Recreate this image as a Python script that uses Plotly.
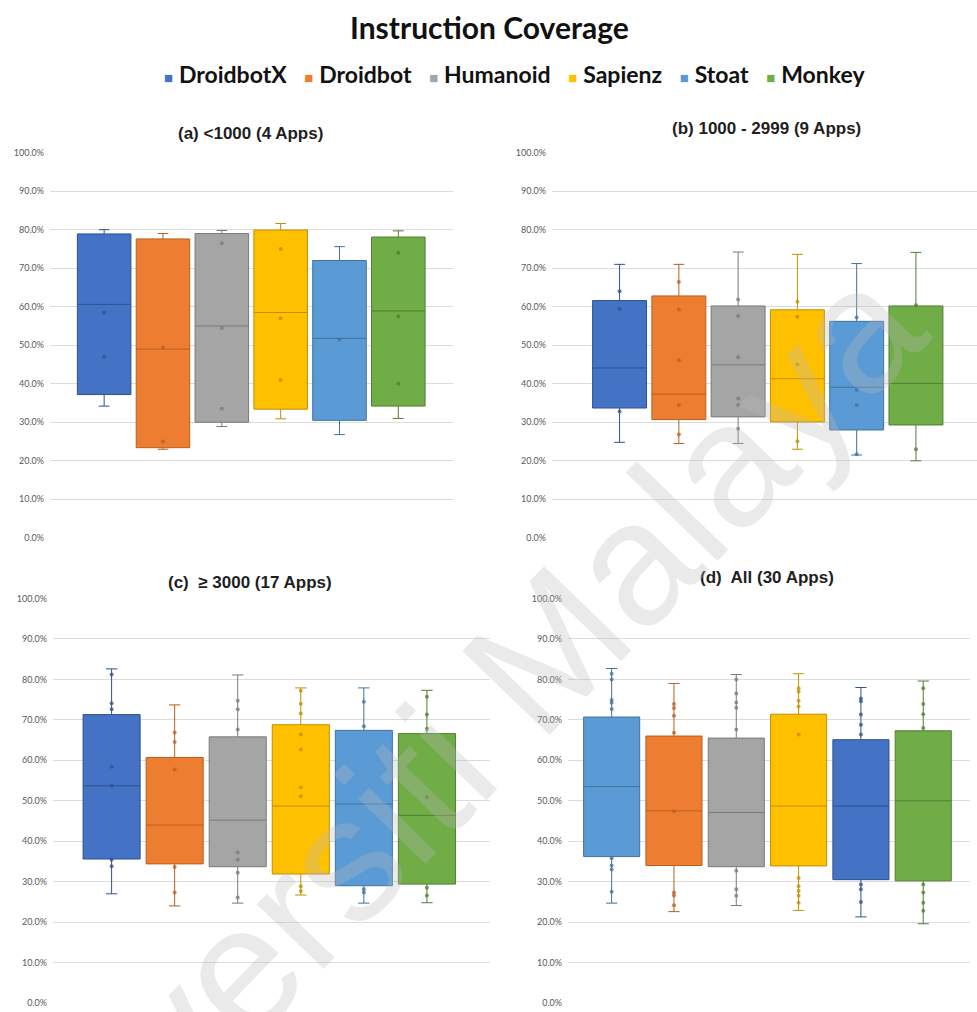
import plotly.graph_objects as go

# Tools compared in every panel
TOOLS = ["DroidbotX", "Droidbot", "Humanoid", "Sapienz", "Stoat", "Monkey"]
LEGEND_COLORS = ["#4472C4", "#ED7D31", "#A5A5A5", "#FFC000", "#5B9BD5", "#70AD47"]

PANEL_TITLES = [
    "(a) <1000 (4 Apps)",
    "(b) 1000 - 2999 (9 Apps)",
    "(c)\u00a0 \u2265 3000 (17 Apps)",
    "(d)\u00a0 All (30 Apps)",
]

# Y-axis ticks (%)
TICK_VALUES = [0, 10, 20, 30, 40, 50, 60, 70, 80, 90, 100]
TICK_LABELS = ["0.0%", "10.0%", "20.0%", "30.0%", "40.0%", "50.0%",
               "60.0%", "70.0%", "80.0%", "90.0%", "100.0%"]

# Instruction coverage (%) box statistics, one value per tool (order of TOOLS)
a_q1 = [37.2, 23.4, 30.0, 33.4, 30.5, 34.2]
a_median = [60.6, 49.0, 55.0, 58.5, 51.8, 58.9]
a_q3 = [78.9, 77.6, 79.0, 79.9, 72.0, 78.1]
a_min = [34.2, 23.0, 28.9, 30.9, 26.8, 31.0]
a_max = [80.0, 79.0, 79.8, 81.6, 75.6, 79.7]

b_q1 = [33.7, 30.7, 31.4, 30.1, 28.0, 29.3]
b_median = [44.1, 37.3, 44.9, 41.3, 39.1, 40.1]
b_q3 = [61.6, 62.8, 60.2, 59.2, 56.2, 60.2]
b_min = [24.8, 24.5, 24.5, 23.0, 21.5, 20.0]
b_max = [71.0, 71.0, 74.2, 73.6, 71.2, 74.1]

c_q1 = [35.6, 34.4, 33.7, 31.9, 29.0, 29.4]
c_median = [53.7, 44.0, 45.2, 48.7, 49.2, 46.4]
c_q3 = [71.3, 60.7, 65.8, 68.8, 67.4, 66.6]
c_min = [27.0, 24.0, 24.7, 26.7, 24.7, 24.8]
c_max = [82.6, 73.7, 81.1, 77.9, 77.9, 77.3]

d_q1 = [36.2, 34.0, 33.7, 33.9, 30.5, 30.2]
d_median = [53.5, 47.5, 47.1, 48.7, 48.7, 50.0]
d_q3 = [70.7, 66.0, 65.5, 71.4, 65.1, 67.3]
d_min = [24.7, 22.6, 24.1, 22.9, 21.3, 19.6]
d_max = [82.7, 79.0, 81.2, 81.4, 78.0, 79.6]

# Individual app results shown as dots on each box
a_points = [
    [58.5, 47.0],
    [49.5, 25.0],
    [76.5, 54.5, 33.5],
    [75.0, 57.0, 41.0],
    [51.5],
    [74.0, 57.5, 40.0],
]
b_points = [
    [64.0, 59.4, 32.8],
    [66.4, 59.3, 46.1, 34.5, 26.8],
    [61.9, 57.6, 46.9, 36.2, 34.5, 28.3],
    [61.3, 57.4, 45.0, 25.1],
    [57.2, 38.4, 34.5, 21.7],
    [60.4, 23.0],
]
c_points = [
    [81.2, 74.1, 72.6, 58.4, 53.7, 35.4, 33.8],
    [66.9, 64.5, 57.7, 33.6, 27.3],
    [74.7, 72.6, 67.6, 37.2, 35.4, 32.2, 26.1],
    [77.2, 74.0, 71.6, 66.4, 62.7, 53.3, 51.1, 28.9, 27.7],
    [74.5, 68.4, 28.1, 27.3],
    [75.7, 71.3, 67.8, 50.9, 28.5, 26.6],
]
d_points = [
    [81.4, 80.0, 74.9, 74.2, 72.7, 35.8, 34.0, 33.0, 27.5],
    [73.9, 72.9, 71.0, 66.8, 47.4, 27.3, 26.6, 24.2],
    [80.0, 76.5, 74.3, 73.0, 67.6, 32.7, 28.1, 26.5],
    [77.8, 77.0, 74.7, 73.3, 66.4, 30.9, 28.9, 27.7, 26.5, 24.8],
    [75.3, 74.6, 71.3, 68.8, 66.4, 29.3, 28.1, 25.0],
    [77.8, 73.9, 71.4, 68.0, 29.3, 27.3, 24.8, 22.8],
]

# Fill / outline colours per panel (panel d swaps the two blues)
FILL_ABC = ["#4472C4", "#ED7D31", "#A5A5A5", "#FFC000", "#5B9BD5", "#70AD47"]
EDGE_ABC = ["#2F528F", "#B85F22", "#7A7A7A", "#BF9000", "#41719C", "#507E32"]
FILL_D = ["#5B9BD5", "#ED7D31", "#A5A5A5", "#FFC000", "#4472C4", "#70AD47"]
EDGE_D = ["#41719C", "#B85F22", "#7A7A7A", "#BF9000", "#2F528F", "#507E32"]

panels = [
    dict(q1=a_q1, med=a_median, q3=a_q3, lo=a_min, hi=a_max, pts=a_points,
         fill=FILL_ABC, edge=EDGE_ABC, xdom=[0.0512, 0.4637], ydom=[0.4687, 0.8535],
         xrange=[-0.92, 5.93], width=0.91, title_xy=(250, 129)),
    dict(q1=b_q1, med=b_median, q3=b_q3, lo=b_min, hi=b_max, pts=b_points,
         fill=FILL_ABC, edge=EDGE_ABC, xdom=[0.565, 1.0], ydom=[0.4687, 0.8535],
         xrange=[-1.14, 6.03], width=0.91, title_xy=(766, 124)),
    dict(q1=c_q1, med=c_median, q3=c_q3, lo=c_min, hi=c_max, pts=c_points,
         fill=FILL_ABC, edge=EDGE_ABC, xdom=[0.0542, 0.5015], ydom=[0.00395, 0.4081],
         xrange=[-0.93, 6.0], width=0.905, title_xy=(250, 583)),
    dict(q1=d_q1, med=d_median, q3=d_q3, lo=d_min, hi=d_max, pts=d_points,
         fill=FILL_D, edge=EDGE_D, xdom=[0.5814, 0.9928], ydom=[0.00395, 0.4081],
         xrange=[-0.70, 5.75], width=0.9, title_xy=(767, 578)),
]

W, H = 977, 1012
fig = go.Figure()
annotations = []

for p_idx, p in enumerate(panels):
    suffix = "" if p_idx == 0 else str(p_idx + 1)
    xa, ya = "x" + suffix, "y" + suffix
    for i, tool in enumerate(TOOLS):
        fig.add_trace(go.Box(
            x=[i], q1=[p["q1"][i]], median=[p["med"][i]], q3=[p["q3"][i]],
            lowerfence=[p["lo"][i]], upperfence=[p["hi"][i]],
            width=p["width"], whiskerwidth=0.2,
            fillcolor=p["fill"][i],
            line=dict(color=p["edge"][i], width=1),
            boxpoints=False, name=tool, showlegend=False,
            xaxis=xa, yaxis=ya, hoverinfo="skip",
        ))
        pts = p["pts"][i]
        fig.add_trace(go.Scatter(
            x=[i] * len(pts), y=pts, mode="markers",
            marker=dict(size=4, color=p["edge"][i], opacity=0.75),
            showlegend=False, xaxis=xa, yaxis=ya, hoverinfo="skip",
        ))

    fig.update_layout(**{
        "xaxis" + suffix: dict(domain=p["xdom"], range=p["xrange"], anchor=ya,
                               showgrid=False, showticklabels=False, zeroline=False,
                               showline=False, ticks=""),
        "yaxis" + suffix: dict(domain=p["ydom"], range=[0, 100], anchor=xa,
                               tickmode="array", tickvals=TICK_VALUES,
                               ticktext=TICK_LABELS,
                               showgrid=True, gridcolor="#DCDCDC", gridwidth=1,
                               zeroline=False, showline=False, ticks="",
                               ticklabelstandoff=5,
                               tickfont=dict(family="Lato", size=9, color="#595959")),
    })
    tx, ty = p["title_xy"]
    annotations.append(dict(
        text="<b>" + PANEL_TITLES[p_idx] + "</b>", x=tx / W, y=1 - ty / H,
        xref="paper", yref="paper", xanchor="center", yanchor="middle",
        showarrow=False, font=dict(family="Liberation Sans", size=17, color="#1F1F1F"),
    ))

# Chart title
annotations.append(dict(
    text="<b>Instruction Coverage</b>", x=490 / W, y=1 - 21 / H,
    xref="paper", yref="paper", xanchor="center", yanchor="middle", showarrow=False,
    font=dict(family="Lato", size=30, color="#111111"),
))

# Legend row built from coloured squares and tool names
gap = "\u00a0" * 3
legend_parts = []
for tool, col in zip(TOOLS, LEGEND_COLORS):
    legend_parts.append(
        "<span style='color:%s;font-size:15px'>\u25A0</span>\u00a0<b>%s</b>" % (col, tool))
annotations.append(dict(
    text=gap.join(legend_parts), x=514 / W, y=1 - 69 / H,
    xref="paper", yref="paper", xanchor="center", yanchor="middle", showarrow=False,
    font=dict(family="Lato", size=23, color="#111111"),
))

# Faint diagonal watermark running from the lower left to the upper right
annotations.append(dict(
    text="Universiti Malaya", x=424 / W, y=1 - 779 / H,
    xref="paper", yref="paper", xanchor="center", yanchor="middle", showarrow=False,
    textangle=-46, font=dict(family="Liberation Sans", size=176,
                             color="rgba(185,185,185,0.3)"),
))

fig.update_layout(
    width=W, height=H, margin=dict(l=0, r=0, t=0, b=0),
    paper_bgcolor="white", plot_bgcolor="white",
    boxmode="overlay", showlegend=False,
    annotations=annotations,
)

fig.write_html("out.html")
